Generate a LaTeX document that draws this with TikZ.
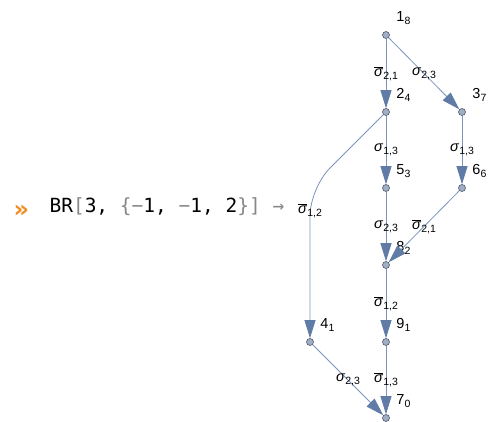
\documentclass[tikz,border=0pt]{standalone}
\usepackage{fontspec}
\setmainfont{Liberation Sans}
\newfontfamily\codefont{DejaVu Sans Mono}
\newfontfamily\promptfont{DejaVu Sans}
\usetikzlibrary{arrows.meta}
\definecolor{edgeblue}{RGB}{122,148,188}
\definecolor{tipblue}{RGB}{96,124,166}
\definecolor{vfill}{RGB}{160,174,198}
\definecolor{vdraw}{RGB}{78,88,104}
\definecolor{codegray}{RGB}{135,135,135}
\definecolor{promptorange}{RGB}{242,140,30}
\newcommand\sub[1]{\raisebox{-3pt}{\fontsize{10.5}{12}\selectfont #1}}
\newcommand\sig[1]{\textit{σ}\sub{#1}}
\newcommand\sigbar[1]{$\overline{\hbox{\textit{σ}}}$\sub{#1}}
\newcommand\gr[1]{\textcolor{codegray}{#1}}
\begin{document}
\begin{tikzpicture}[x=1pt, y=-1pt, label distance=6pt,
		every node/.style={font=\fontsize{14.5}{16}\selectfont},
		vertex/.style={circle, draw=vdraw, fill=vfill, line width=0.6pt, inner sep=0pt, minimum size=7pt},
		edge/.style={draw=edgeblue, line width=0.8pt, -{Triangle[length=18pt, width=11pt, color=tipblue]}},
		elab/.style={inner sep=0pt}]
	\useasboundingbox (0,0) rectangle (488,422);
	\node[vertex, label={above right:1\sub{8}}] (n1) at (386,35) {};
	\node[vertex, label={above right:2\sub{4}}] (n2) at (386,112) {};
	\node[vertex, label={above right:3\sub{7}}] (n3) at (462,112) {};
	\node[vertex, label={above right:5\sub{3}}] (n5) at (386,188) {};
	\node[vertex, label={above right:6\sub{6}}] (n6) at (462,188) {};
	\node[vertex, label={above right:8\sub{2}}] (n8) at (386,265) {};
	\node[vertex, label={above right:4\sub{1}}] (n4) at (310,342) {};
	\node[vertex, label={above right:9\sub{1}}] (n9) at (386,342) {};
	\node[vertex, label={above right:7\sub{0}}] (n7) at (386,418) {};
	\coordinate (bend) at (310,188);
	\draw[edge] (n1) -- node[elab]{\sigbar{2,1}} (n2);
	\draw[edge] (n1) -- node[elab]{\sig{2,3}} (n3);
	\draw[edge] (n2) -- node[elab]{\sig{1,3}} (n5);
	\draw[edge] (n3) -- node[elab]{\sig{1,3}} (n6);
	\draw[edge] (n5) -- node[elab]{\sig{2,3}} (n8);
	\draw[edge] (n6) -- node[elab]{\sigbar{2,1}} (n8);
	\draw[edge] (n8) -- node[elab]{\sigbar{1,2}} (n9);
	\draw[edge] (n9) -- node[elab]{\sigbar{1,3}} (n7);
	\draw[edge] (n4) -- node[elab]{\sig{2,3}} (n7);
	\draw[edge, rounded corners=28pt] (n2) -- (bend) -- node[elab, pos=0.15]{\sigbar{1,2}} (n4);
	% input line
	\node[anchor=base west, text=promptorange, font=\promptfont\bfseries\fontsize{24}{26}\selectfont] (prompt) at (10,218) {»};
	\node[anchor=base west, font=\codefont\fontsize{19.5}{21}\selectfont] (cmd) at (46,213)
		{BR\gr{[}3, \gr{\{−}1, \gr{−}1, 2\gr{\}]} \gr{→}};
\end{tikzpicture}
\end{document}
